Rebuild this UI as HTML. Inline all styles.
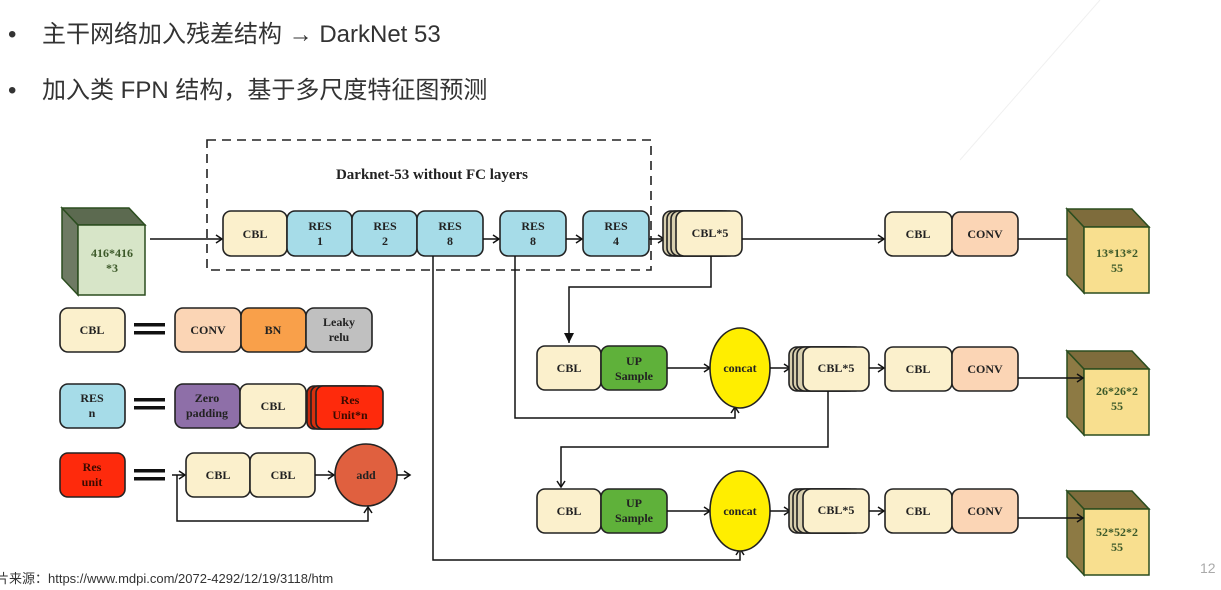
<!DOCTYPE html>
<html><head><meta charset="utf-8"><style>
html,body{margin:0;padding:0;background:#fff;width:1221px;height:590px;overflow:hidden}
svg{display:block}
.t{font-family:"Liberation Serif",serif;font-weight:bold;font-size:12px;fill:#222;text-anchor:middle}
.h{font-family:"Liberation Sans","Noto Sans CJK SC",sans-serif;font-size:24px;fill:#333}
.b{stroke:#222;stroke-width:1.6}
.l{stroke:#111;stroke-width:1.5;fill:none}
</style></head><body>
<svg width="1221" height="590" viewBox="0 0 1221 590" xmlns="http://www.w3.org/2000/svg">
<defs>
<marker id="a" markerWidth="10" markerHeight="10" refX="8" refY="5" orient="auto" markerUnits="userSpaceOnUse">
<path d="M2,1 L8,5 L2,9" fill="none" stroke="#111" stroke-width="1.5"/></marker>
<marker id="f" markerWidth="12" markerHeight="12" refX="10" refY="6" orient="auto" markerUnits="userSpaceOnUse">
<path d="M0,1 L10,6 L0,11 z" fill="#111"/></marker>
</defs>
<line x1="1100" y1="0" x2="960" y2="160" stroke="#f0f0f0" stroke-width="1"/>
<text class="h" x="8" y="42">•</text>
<text class="h" x="42" y="42">主干网络加入残差结构 → DarkNet 53</text>
<text class="h" x="8" y="98">•</text>
<text class="h" x="42" y="98">加入类 FPN 结构，基于多尺度特征图预测</text>

<!-- dashed box -->
<rect x="207" y="140" width="444" height="130" fill="none" stroke="#222" stroke-width="1.6" stroke-dasharray="9,6"/>
<text x="432" y="179" style="font-family:'Liberation Serif',serif;font-weight:bold;font-size:15px;fill:#222;text-anchor:middle">Darknet-53 without FC layers</text>

<!-- input cube -->
<polygon points="62,208 78,225 78,295 62,278" fill="#6e7a63" stroke="#2b4d1f" stroke-width="1.5"/>
<polygon points="62,208 129,208 145,225 78,225" fill="#5c6a50" stroke="#2b4d1f" stroke-width="1.5"/>
<rect x="78" y="225" width="67" height="70" fill="#d7e5c8" stroke="#2b4d1f" stroke-width="1.5"/>
<text class="t" x="112" y="257" style="fill:#3d5a2a">416*416</text>
<text class="t" x="112" y="272" style="fill:#3d5a2a">*3</text>
<line class="l" x1="150" y1="239" x2="222" y2="239" marker-end="url(#a)"/>

<!-- top row -->
<rect class="b" x="223" y="211" width="64" height="45" rx="8" fill="#fbf0cc"/><text class="t" x="255" y="238">CBL</text>
<rect class="b" x="287" y="211" width="65" height="45" rx="8" fill="#a6dce8"/><text class="t" x="320" y="230">RES</text><text class="t" x="320" y="245">1</text>
<rect class="b" x="352" y="211" width="65" height="45" rx="8" fill="#a6dce8"/><text class="t" x="385" y="230">RES</text><text class="t" x="385" y="245">2</text>
<rect class="b" x="417" y="211" width="66" height="45" rx="8" fill="#a6dce8"/><text class="t" x="450" y="230">RES</text><text class="t" x="450" y="245">8</text>
<line class="l" x1="483" y1="239" x2="499" y2="239" marker-end="url(#a)"/>
<rect class="b" x="500" y="211" width="66" height="45" rx="8" fill="#a6dce8"/><text class="t" x="533" y="230">RES</text><text class="t" x="533" y="245">8</text>
<line class="l" x1="566" y1="239" x2="582" y2="239" marker-end="url(#a)"/>
<rect class="b" x="583" y="211" width="66" height="45" rx="8" fill="#a6dce8"/><text class="t" x="616" y="230">RES</text><text class="t" x="616" y="245">4</text>
<line class="l" x1="649" y1="239" x2="664" y2="239" marker-end="url(#a)"/>
<g>
<rect class="b" x="663" y="211" width="66" height="45" rx="8" fill="#d8cfae"/>
<rect class="b" x="667" y="211" width="66" height="45" rx="8" fill="#d8cfae"/>
<rect class="b" x="671" y="211" width="66" height="45" rx="8" fill="#d8cfae"/>
<rect class="b" x="676" y="211" width="66" height="45" rx="8" fill="#fbf0cc"/>
<text class="t" x="710" y="237">CBL*5</text></g>
<line class="l" x1="742" y1="239" x2="884" y2="239" marker-end="url(#a)"/>
<rect class="b" x="885" y="212" width="67" height="44" rx="8" fill="#fbf0cc"/><text class="t" x="918" y="238">CBL</text>
<rect class="b" x="952" y="212" width="66" height="44" rx="8" fill="#fbd5b5"/><text class="t" x="985" y="238">CONV</text>
<line class="l" x1="1018" y1="239" x2="1083" y2="239" marker-end="url(#a)"/>

<!-- output cubes -->
<g id="c1">
<polygon points="1067,209 1084,227 1084,293 1067,275" fill="#8d7a44" stroke="#2b4d1f" stroke-width="1.5"/>
<polygon points="1067,209 1132,209 1149,227 1084,227" fill="#7e6c3c" stroke="#2b4d1f" stroke-width="1.5"/>
<rect x="1084" y="227" width="65" height="66" fill="#f8df8f" stroke="#2b4d1f" stroke-width="1.5"/>
</g>
<text class="t" x="1117" y="257" style="fill:#3d5a2a">13*13*2</text><text class="t" x="1117" y="272" style="fill:#3d5a2a">55</text>
<use href="#c1" transform="translate(0,142)"/>
<text class="t" x="1117" y="395" style="fill:#3d5a2a">26*26*2</text><text class="t" x="1117" y="410" style="fill:#3d5a2a">55</text>
<use href="#c1" transform="translate(0,282)"/>
<text class="t" x="1117" y="536" style="fill:#3d5a2a">52*52*2</text><text class="t" x="1117" y="551" style="fill:#3d5a2a">55</text>

<!-- connectors to row 2 -->
<polyline class="l" points="711,256 711,287 569,287 569,343" marker-end="url(#f)"/>
<polyline class="l" points="515,256 515,418 735,418 735,407" marker-end="url(#a)"/>

<!-- row 2 -->
<rect class="b" x="537" y="346" width="64" height="44" rx="8" fill="#fbf0cc"/><text class="t" x="569" y="372">CBL</text>
<rect class="b" x="601" y="346" width="66" height="44" rx="8" fill="#5fb13a"/><text class="t" x="634" y="365">UP</text><text class="t" x="634" y="380">Sample</text>
<line class="l" x1="667" y1="368" x2="710" y2="368" marker-end="url(#a)"/>
<ellipse cx="740" cy="368" rx="30" ry="40" fill="#ffee00" stroke="#222" stroke-width="1.6"/><text class="t" x="740" y="372">concat</text>
<line class="l" x1="770" y1="368" x2="790" y2="368" marker-end="url(#a)"/>
<rect class="b" x="789" y="347" width="64" height="44" rx="8" fill="#d8cfae"/>
<rect class="b" x="793" y="347" width="64" height="44" rx="8" fill="#d8cfae"/>
<rect class="b" x="797" y="347" width="66" height="44" rx="8" fill="#d8cfae"/>
<rect class="b" x="803" y="347" width="66" height="44" rx="8" fill="#fbf0cc"/><text class="t" x="836" y="372">CBL*5</text>
<line class="l" x1="869" y1="368" x2="884" y2="368" marker-end="url(#a)"/>
<rect class="b" x="885" y="347" width="67" height="44" rx="8" fill="#fbf0cc"/><text class="t" x="918" y="373">CBL</text>
<rect class="b" x="952" y="347" width="66" height="44" rx="8" fill="#fbd5b5"/><text class="t" x="985" y="373">CONV</text>
<line class="l" x1="1018" y1="378" x2="1083" y2="378" marker-end="url(#a)"/>

<polyline class="l" points="828,391 828,447 561,447 561,487" marker-end="url(#a)"/>
<polyline class="l" points="433,256 433,560 740,560 740,549" marker-end="url(#a)"/>

<!-- row 3 -->
<rect class="b" x="537" y="489" width="64" height="44" rx="8" fill="#fbf0cc"/><text class="t" x="569" y="515">CBL</text>
<rect class="b" x="601" y="489" width="66" height="44" rx="8" fill="#5fb13a"/><text class="t" x="634" y="507">UP</text><text class="t" x="634" y="522">Sample</text>
<line class="l" x1="667" y1="511" x2="710" y2="511" marker-end="url(#a)"/>
<ellipse cx="740" cy="511" rx="30" ry="40" fill="#ffee00" stroke="#222" stroke-width="1.6"/><text class="t" x="740" y="515">concat</text>
<line class="l" x1="770" y1="511" x2="790" y2="511" marker-end="url(#a)"/>
<rect class="b" x="789" y="489" width="64" height="44" rx="8" fill="#d8cfae"/>
<rect class="b" x="793" y="489" width="64" height="44" rx="8" fill="#d8cfae"/>
<rect class="b" x="797" y="489" width="66" height="44" rx="8" fill="#d8cfae"/>
<rect class="b" x="803" y="489" width="66" height="44" rx="8" fill="#fbf0cc"/><text class="t" x="836" y="514">CBL*5</text>
<line class="l" x1="869" y1="511" x2="884" y2="511" marker-end="url(#a)"/>
<rect class="b" x="885" y="489" width="67" height="44" rx="8" fill="#fbf0cc"/><text class="t" x="918" y="515">CBL</text>
<rect class="b" x="952" y="489" width="66" height="44" rx="8" fill="#fbd5b5"/><text class="t" x="985" y="515">CONV</text>
<line class="l" x1="1018" y1="518" x2="1083" y2="518" marker-end="url(#a)"/>

<!-- legend -->
<rect class="b" x="60" y="308" width="65" height="44" rx="8" fill="#fbf0cc"/><text class="t" x="92" y="334">CBL</text>
<rect x="134" y="323" width="31" height="3.5" fill="#111"/><rect x="134" y="331" width="31" height="3.5" fill="#111"/>
<rect class="b" x="175" y="308" width="66" height="44" rx="8" fill="#fbd5b5"/><text class="t" x="208" y="334">CONV</text>
<rect class="b" x="241" y="308" width="65" height="44" rx="8" fill="#f9a04a"/><text class="t" x="273" y="334">BN</text>
<rect class="b" x="306" y="308" width="66" height="44" rx="8" fill="#c0c0c0"/><text class="t" x="339" y="326">Leaky</text><text class="t" x="339" y="341">relu</text>

<rect class="b" x="60" y="384" width="65" height="44" rx="8" fill="#a6dce8"/><text class="t" x="92" y="402">RES</text><text class="t" x="92" y="417">n</text>
<rect x="134" y="398" width="31" height="3.5" fill="#111"/><rect x="134" y="406" width="31" height="3.5" fill="#111"/>
<rect class="b" x="175" y="384" width="65" height="44" rx="8" fill="#8e6fa8"/><text class="t" x="207" y="402">Zero</text><text class="t" x="207" y="417">padding</text>
<rect class="b" x="240" y="384" width="66" height="44" rx="8" fill="#fbf0cc"/><text class="t" x="273" y="410">CBL</text>
<rect class="b" x="307" y="386" width="64" height="43" rx="7" fill="#c8280c"/>
<rect class="b" x="311" y="386" width="66" height="43" rx="7" fill="#d8300e"/>
<rect class="b" x="316" y="386" width="67" height="43" rx="7" fill="#fe2a0c"/><text class="t" x="350" y="404" style="fill:#3a0a00">Res</text><text class="t" x="350" y="419" style="fill:#3a0a00">Unit*n</text>

<rect class="b" x="60" y="453" width="65" height="44" rx="8" fill="#fe2a0c"/><text class="t" x="92" y="471" style="fill:#3a0a00">Res</text><text class="t" x="92" y="486" style="fill:#3a0a00">unit</text>
<rect x="134" y="469" width="31" height="3.5" fill="#111"/><rect x="134" y="477" width="31" height="3.5" fill="#111"/>
<line class="l" x1="172" y1="475" x2="185" y2="475" marker-end="url(#a)"/>
<rect class="b" x="186" y="453" width="64" height="44" rx="8" fill="#fbf0cc"/><text class="t" x="218" y="479">CBL</text>
<rect class="b" x="250" y="453" width="65" height="44" rx="8" fill="#fbf0cc"/><text class="t" x="283" y="479">CBL</text>
<line class="l" x1="315" y1="475" x2="334" y2="475" marker-end="url(#a)"/>
<circle cx="366" cy="475" r="31" fill="#e0603f" stroke="#222" stroke-width="1.6"/><text class="t" x="366" y="479">add</text>
<line class="l" x1="397" y1="475" x2="410" y2="475" marker-end="url(#a)"/>
<polyline class="l" points="177,475 177,521 368,521 368,507" marker-end="url(#a)"/>

<text x="-4" y="583" style="font-family:'Liberation Sans','Noto Sans CJK SC',sans-serif;font-size:13px;fill:#333">片来源：https://www.mdpi.com/2072-4292/12/19/3118/htm</text>
<text x="1200" y="573" style="font-family:'Liberation Sans',sans-serif;font-size:14px;fill:#aaa">12</text>
</svg>
</body></html>
